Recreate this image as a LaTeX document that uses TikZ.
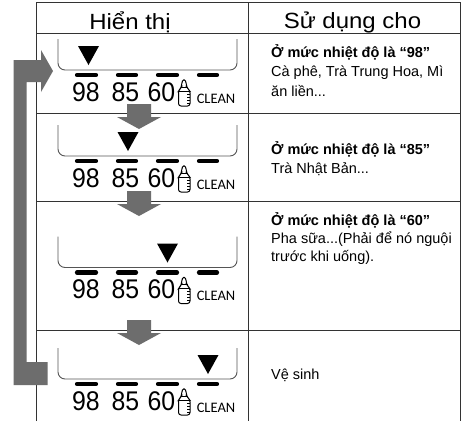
\documentclass[tikz,border=0pt]{standalone}
\usepackage{fontspec}
\setmainfont{Liberation Sans}
\newfontfamily\cleanfont{Carlito}
\definecolor{arrowgray}{HTML}{6D6D6D}
\definecolor{panelgray}{HTML}{555555}
\definecolor{gridgray}{HTML}{333333}
\tikzset{
  gridline/.style={draw=gridgray,line width=1pt},
  panel/.style={draw=panelgray,line width=0.9pt,rounded corners=7pt},
  marker/.style={fill=black,draw=none},
  dashbar/.style={line width=4.2pt,line cap=round,draw=black},
  bigarrow/.style={fill=arrowgray,draw=none},
  digits/.style={inner sep=0pt,font=\fontsize{27}{27}\selectfont},
  cleanlabel/.style={inner sep=0pt,font=\cleanfont\fontsize{14.5}{14.5}\selectfont},
  headtext/.style={inner sep=0pt,anchor=base,font=\fontsize{22}{22}\selectfont},
  bodytext/.style={inner sep=0pt,anchor=base west,font=\fontsize{14.5}{14.5}\selectfont},
  bottle/.style={draw=black,line width=1pt,fill=white}
}
\newcommand{\lcdrow}[3]{%
  % #1 panel top y, #2 triangle left x, #3 row id
  \begin{scope}[shift={(0,#1)}]
    \draw[panel] (58,0) -- (58,31) -- (237,31) -- (237,0);
    \fill[marker] (#2,7) -- (#2+21,7) -- (#2+10.5,26) -- cycle;
    \foreach \xa/\xb in {77/96,118/136,158/177,199/217}
      \draw[dashbar] (\xa,36) -- (\xb,36);
    \node[digits] (n98#3) at (86,53) {\scalebox{0.92}[1]{98}};
    \node[digits] (n85#3) at (125.5,53) {\scalebox{0.92}[1]{85}};
    \node[digits] (n60#3) at (161.5,53) {\scalebox{0.92}[1]{60}};
    \node[cleanlabel] (cl#3) at (216,59.5) {CLEAN};
    \draw[bottle,rounded corners=2.5pt] (178.5,67) -- (178.5,51.5) -- (181.5,48.5) -- (181.5,44) -- (184,39.5) -- (186.5,44) -- (186.5,48.5) -- (190,51.5) -- (190,67) -- cycle;
    \draw[black,line width=0.8pt] (180.5,48) -- (187.5,48) (178.5,52) -- (190,52);
    \draw[black,line width=0.8pt] (187,55) -- (190,55) (187,58) -- (190,58) (187,61) -- (190,61) (187,64) -- (190,64);
  \end{scope}}
\newcommand{\grayarrow}[1]{%
  \fill[bigarrow] (127,#1) -- (151,#1) -- (151,#1+13) -- (161,#1+13) -- (139,#1+25) -- (117,#1+13) -- (127,#1+13) -- cycle;}
\begin{document}
\begin{tikzpicture}[x=1pt,y=-1pt]
\useasboundingbox (0,0) rectangle (461,421);
\fill[white] (0,0) rectangle (461,421);
% grid
\draw[gridline] (36,421) -- (36,2.5) -- (460.5,2.5) -- (460.5,421);
\draw[gridline] (248,2.5) -- (248,421);
\foreach \yy in {33.5,113.5,201,330}
  \draw[gridline] (36,\yy) -- (460.5,\yy);
% headers
\node[headtext] (h1) at (130,29) {\scalebox{1.09}[1]{Hiển thị}};
\node[headtext] (h2) at (352.5,28) {\scalebox{1.09}[1]{Sử dụng cho}};
% displays
\lcdrow{39}{78}{a}
\lcdrow{125}{117.5}{b}
\lcdrow{236.5}{157}{c}
\lcdrow{348}{197.5}{d}
% arrows
\grayarrow{104}
\grayarrow{191}
\grayarrow{320}
\fill[bigarrow] (13.5,60) -- (41,60) -- (41,50) -- (53,71) -- (41,92) -- (41,82) -- (26.5,82) -- (26.5,362) -- (47.5,362) -- (47.5,385) -- (13.5,385) -- cycle;
% texts
\node[bodytext] (t1a) at (271,57) {\textbf{Ở mức nhiệt độ là “98”}};
\node[bodytext] (t1b) at (271,76) {Cà phê, Trà Trung Hoa, Mì};
\node[bodytext] (t1c) at (271,96) {ăn liền...};
\node[bodytext] (t2a) at (271,154) {\textbf{Ở mức nhiệt độ là “85”}};
\node[bodytext] (t2b) at (271,173) {Trà Nhật Bản...};
\node[bodytext] (t3a) at (271,225) {\textbf{Ở mức nhiệt độ là “60”}};
\node[bodytext] (t3b) at (271,243) {Pha sữa...(Phải để nó nguội};
\node[bodytext] (t3c) at (271,261.5) {trước khi uống).};
\node[bodytext] (t4) at (271,379) {Vệ sinh};
\end{tikzpicture}
\end{document}
